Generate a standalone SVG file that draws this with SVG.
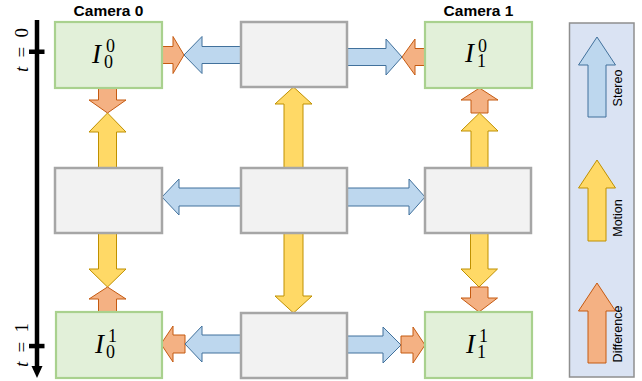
<svg xmlns="http://www.w3.org/2000/svg" width="642" height="381" viewBox="0 0 642 381">
<style>
.img{fill:#e2f0d9;stroke:#a9d18e;stroke-width:2.2}
.feat{fill:#f2f2f2;stroke:#a6a6a6;stroke-width:2.5}
.st{fill:#bdd7ee;stroke:#41719c;stroke-width:1}
.mo{fill:#ffd966;stroke:#bf9000;stroke-width:1}
.di{fill:#f4b183;stroke:#c55a11;stroke-width:1}
.cam{font-family:"Liberation Sans",Arial,sans-serif;font-weight:bold;font-size:15.5px;fill:#000}
.math{font-family:"Liberation Serif","Times New Roman",serif;font-size:18px;fill:#000}
.mI{font-style:italic;font-size:27px}
.tl{font-family:"Liberation Serif","Times New Roman",serif;font-size:19px;fill:#000}
.lg{font-family:"Liberation Sans",Arial,sans-serif;font-size:12.5px;fill:#000}
</style>
<rect width="642" height="381" fill="#fff"/>

<g id="legend">
<rect x="569.5" y="23" width="64.5" height="354" fill="#dae3f3" stroke="#8f8f8f" stroke-width="1.5"/>
<polygon class="st" points="588,117 606,117 606,65 615.5,65 597,37 578.5,65 588,65"/>
<polygon class="mo" points="588,241 606,241 606,188 615.5,188 597,160 578.5,188 588,188"/>
<polygon class="di" points="588,363 606,363 606,311 615.5,311 597,283 578.5,311 588,311"/>
<text class="lg" transform="translate(622,88) rotate(-90)" text-anchor="middle">Stereo</text>
<text class="lg" transform="translate(622,218) rotate(-90)" text-anchor="middle">Motion</text>
<text class="lg" transform="translate(622,334) rotate(-90)" text-anchor="middle">Difference</text>
</g>

<g id="time-axis">
<rect x="34.75" y="20" width="4.5" height="348"/>
<polygon points="31.5,366 42.5,366 37,378"/>
<rect x="29" y="49.5" width="15.5" height="4.5"/>
<rect x="29" y="343.8" width="15.5" height="4.5"/>
<text class="tl" transform="translate(28,50) rotate(-90)" text-anchor="middle" textLength="44" lengthAdjust="spacing"><tspan font-style="italic">t</tspan> = 0</text>
<text class="tl" transform="translate(28,345) rotate(-90)" text-anchor="middle" textLength="44" lengthAdjust="spacing"><tspan font-style="italic">t</tspan> = 1</text>
</g>

<g id="connectors">
<polygon class="di" points="162,46.5 173,46.5 173,36.5 184,55 173,73.5 173,63.5 162,63.5"/>
<polygon class="st" points="241,46.5 202,46.5 202,36.5 184,55 202,73.5 202,63.5 241,63.5"/>
<polygon class="st" points="347,48.5 386,48.5 386,39 402,57 386,75 386,65.5 347,65.5"/>
<polygon class="di" points="425,48.5 415,48.5 415,39 402,57 415,75 415,65.5 425,65.5"/>
<polygon class="di" points="98.5,88 116.5,88 116.5,100 126,100 107.5,113 89,100 98.5,100"/>
<polygon class="mo" points="98.5,168 116.5,168 116.5,132 126,132 107.5,113 89,132 98.5,132"/>
<polygon class="mo" points="284,168 303,168 303,104 312,104 293.5,87 275,104 284,104"/>
<polygon class="di" points="471,113 488,113 488,100 498,100 479.5,88 461,100 471,100"/>
<polygon class="mo" points="471,168 488,168 488,131 498,131 479.5,113 461,131 471,131"/>
<polygon class="st" points="241,188 179,188 179,179 162,197 179,215 179,206 241,206"/>
<polygon class="st" points="347,188 409,188 409,179 425,197 409,215 409,206 347,206"/>
<polygon class="mo" points="98.5,233 116.5,233 116.5,269 126,269 107.5,287 89,269 98.5,269"/>
<polygon class="di" points="98.5,312 116.5,312 116.5,299 126,299 107.5,287 89,299 98.5,299"/>
<polygon class="mo" points="284,233 303,233 303,296 312,296 293.5,313 275,296 284,296"/>
<polygon class="mo" points="470.5,233 488,233 488,269 497.5,269 479,287 461,269 470.5,269"/>
<polygon class="di" points="470.5,287 488,287 488,298 497.5,298 479,312 461,298 470.5,298"/>
<polygon class="di" points="185,335 173,335 173,326 161,344 173,362 173,353 185,353"/>
<polygon class="st" points="241,335 202,335 202,326 185,344 202,362 202,353 241,353"/>
<polygon class="st" points="347,336 383,336 383,327 401,345 383,363 383,353 347,353"/>
<polygon class="di" points="401,336 413,336 413,327 425,345 413,363 413,353 401,353"/>
</g>

<text class="cam" x="108.5" y="16" text-anchor="middle">Camera 0</text>
<text class="cam" x="478.5" y="16" text-anchor="middle">Camera 1</text>

<g id="I00">
<rect class="img" x="55" y="22" width="107" height="66"/>
<text class="math"><tspan class="mI" x="92" y="63">I</tspan><tspan x="106" y="52">0</tspan><tspan x="104" y="68">0</tspan></text>
</g>
<g id="F-top">
<rect class="feat" x="241" y="22" width="106" height="65"/>
</g>
<g id="I10">
<rect class="img" x="425" y="22" width="107" height="66"/>
<text class="math"><tspan class="mI" x="465" y="62">I</tspan><tspan x="478" y="52">0</tspan><tspan x="477" y="67">1</tspan></text>
</g>
<g id="F-left">
<rect class="feat" x="55" y="168" width="107" height="65"/>
</g>
<g id="F-center">
<rect class="feat" x="241" y="168" width="106" height="65"/>
</g>
<g id="F-right">
<rect class="feat" x="425" y="168" width="106" height="65"/>
</g>
<g id="I01">
<rect class="img" x="56" y="312" width="106" height="66"/>
<text class="math"><tspan class="mI" x="95" y="353">I</tspan><tspan x="108" y="342">1</tspan><tspan x="106" y="358">0</tspan></text>
</g>
<g id="F-bottom">
<rect class="feat" x="241" y="313" width="106" height="65"/>
</g>
<g id="I11">
<rect class="img" x="425" y="312" width="107" height="66"/>
<text class="math"><tspan class="mI" x="466" y="353">I</tspan><tspan x="479" y="342">1</tspan><tspan x="477" y="358">1</tspan></text>
</g>
</svg>
